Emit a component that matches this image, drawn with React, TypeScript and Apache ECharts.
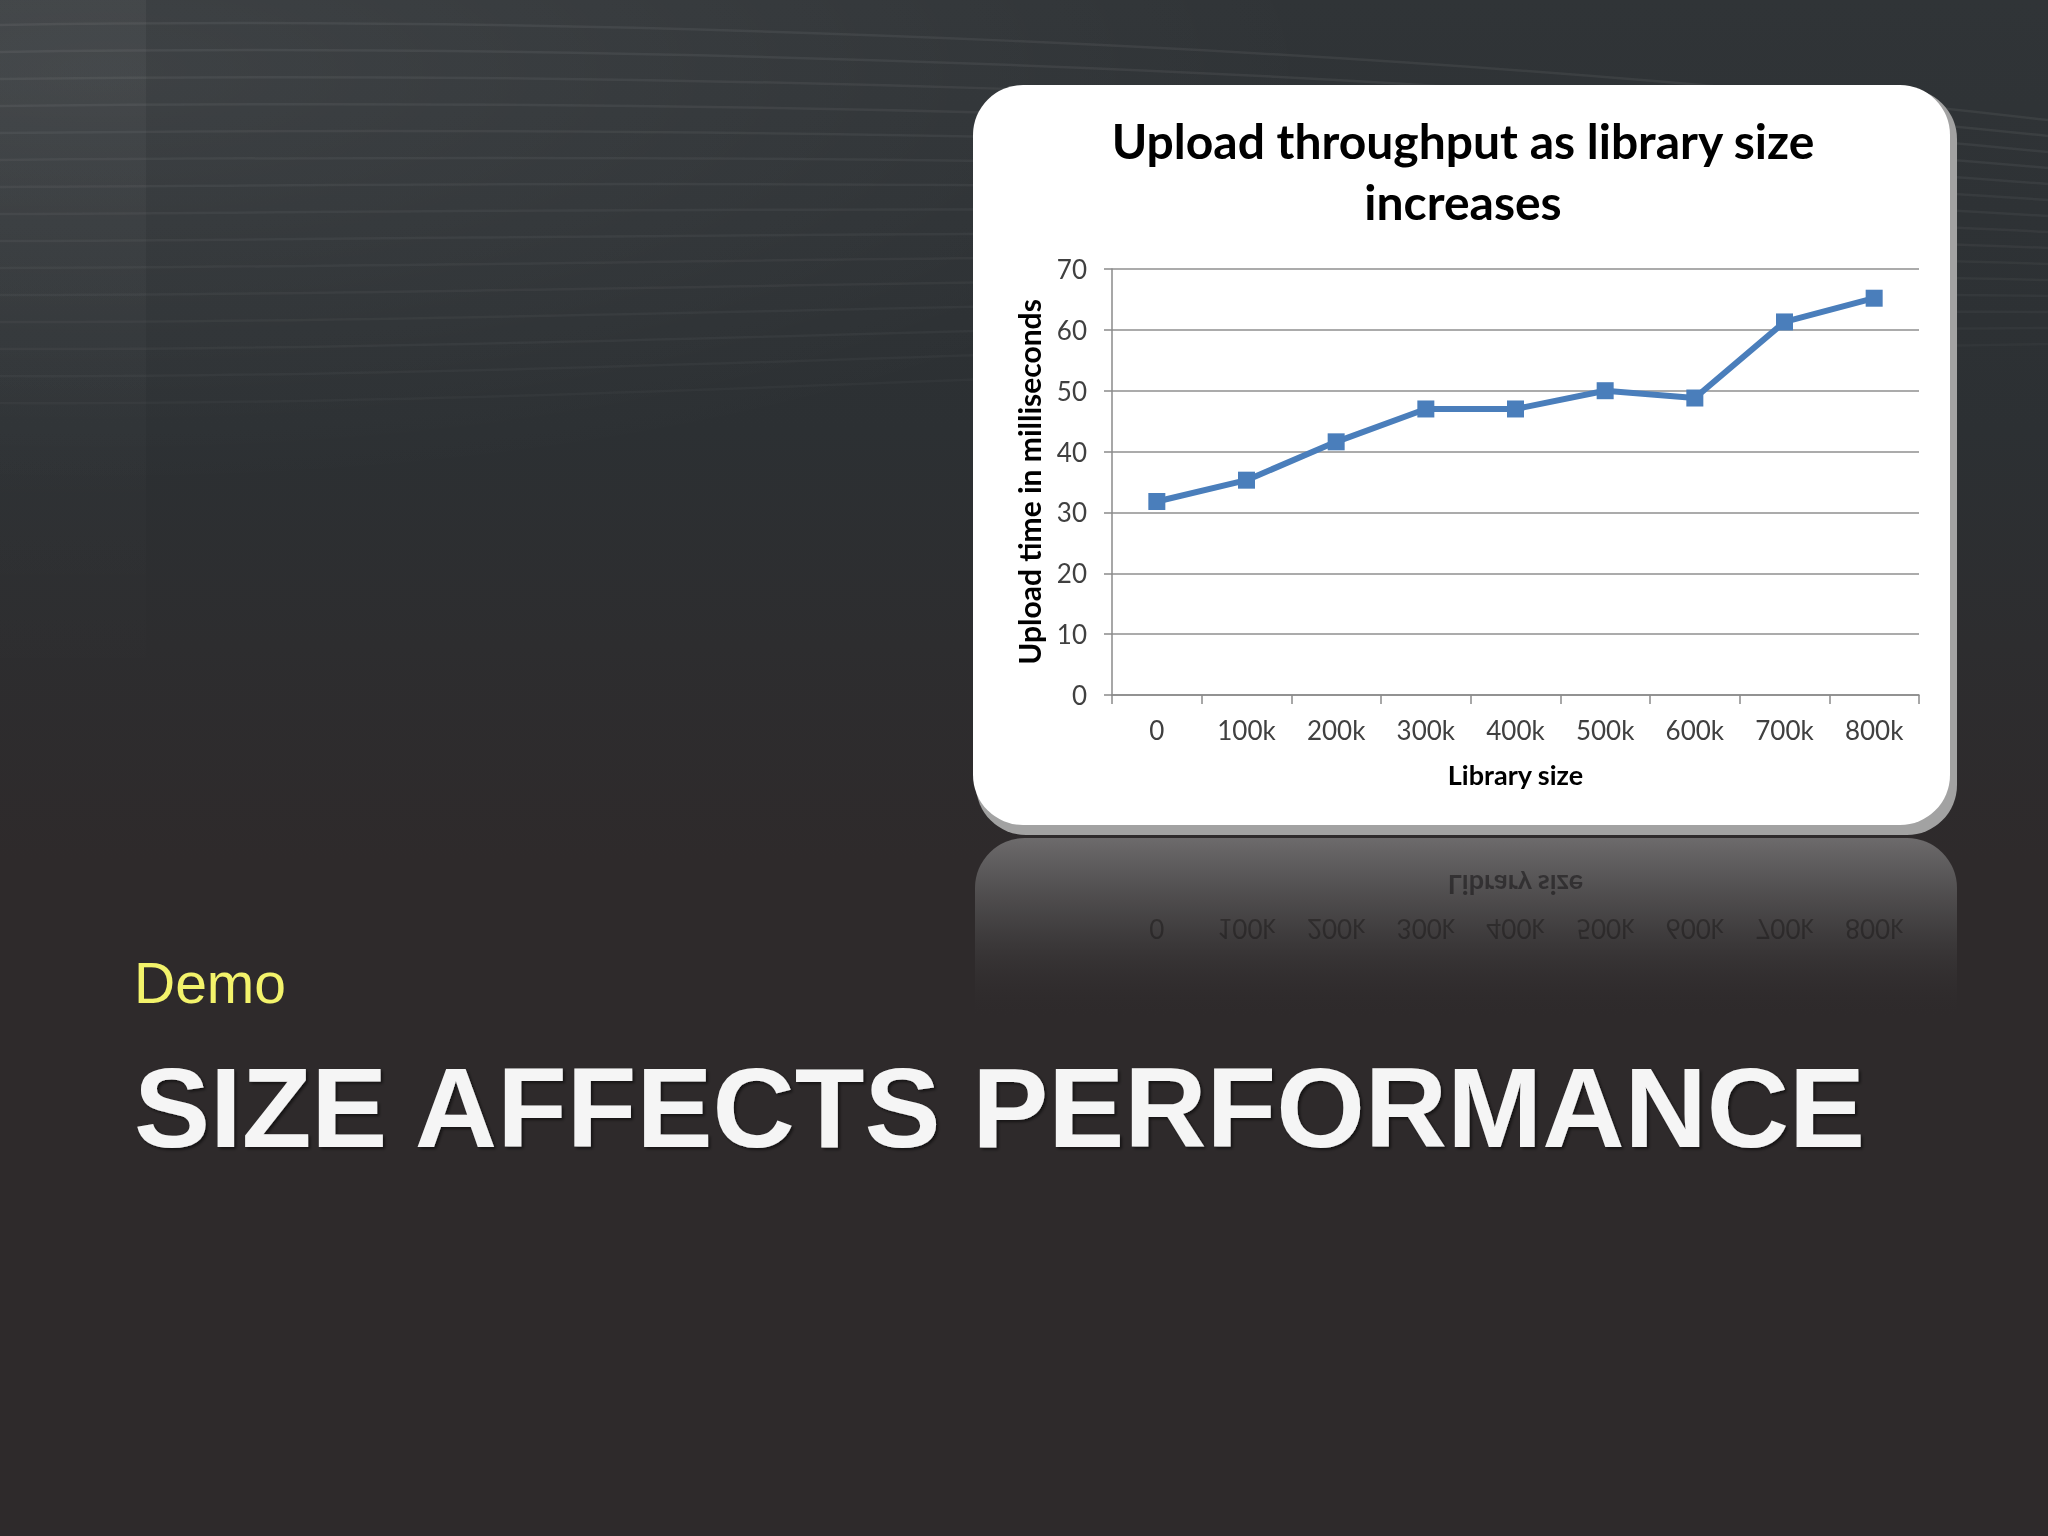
import React, { useEffect, useRef } from 'react';
import * as echarts from 'echarts';

// ---- data ----
const categories = ['0', '100k', '200k', '300k', '400k', '500k', '600k', '700k', '800k'];
const uploadMs = [31.8, 35.3, 41.6, 47.0, 47.0, 50.0, 48.8, 61.3, 65.2];
const yMin = 0;
const yMax = 70;
const yStep = 10;
const chartTitle = 'Upload throughput as library size\nincreases';
const xName = 'Library size';
const yName = 'Upload time in milliseconds';
const slideKicker = 'Demo';
const slideTitle = 'SIZE AFFECTS PERFORMANCE';

const W = 2048;
const H = 1536;
const CARD_FONT = 'Lato, "Open Sans", sans-serif';
const SLIDE_FONT = '"Liberation Sans", Arial, sans-serif';

export default function App() {
  const ref = useRef<HTMLDivElement>(null);

  useEffect(() => {
    const el = ref.current;
    if (!el) return;
    const chart = echarts.init(el, null, { renderer: 'svg' });

    const axisGray = '#8a8a8a';
    const option: any = {
      animation: false,
      backgroundColor: 'transparent',
      title: {
        text: chartTitle,
        left: 1463,
        top: 110,
        padding: 0,
        textAlign: 'center',
        textStyle: {
          fontFamily: CARD_FONT,
          fontWeight: 'bold',
          fontSize: 48,
          lineHeight: 61,
          color: '#000000',
        },
      },
      grid: { left: 1112, top: 269, width: 807, height: 426, containLabel: false },
      xAxis: {
        type: 'category',
        data: categories,
        boundaryGap: true,
        name: xName,
        nameLocation: 'middle',
        nameGap: 66,
        nameTextStyle: { fontFamily: CARD_FONT, fontWeight: 'bold', fontSize: 27, color: '#000000' },
        axisLine: { show: true, lineStyle: { color: axisGray, width: 1.5 } },
        axisTick: { show: true, length: 9, lineStyle: { color: axisGray, width: 1.5 } },
        axisLabel: { margin: 22, fontFamily: CARD_FONT, fontSize: 26, color: '#404040' },
        splitLine: { show: false },
      },
      yAxis: {
        type: 'value',
        min: yMin,
        max: yMax,
        interval: yStep,
        name: yName,
        nameLocation: 'middle',
        nameGap: 68,
        nameRotate: 90,
        nameTextStyle: { fontFamily: CARD_FONT, fontWeight: 'bold', fontSize: 30, color: '#000000' },
        axisLine: { show: true, lineStyle: { color: axisGray, width: 1.5 } },
        axisTick: { show: true, length: 8, lineStyle: { color: axisGray, width: 1.5 } },
        axisLabel: { margin: 25, fontFamily: CARD_FONT, fontSize: 26, color: '#404040' },
        splitLine: { show: true, lineStyle: { color: '#8f8f8f', width: 1.5 } },
      },
      series: [
        {
          type: 'line',
          data: uploadMs,
          symbol: 'rect',
          symbolSize: 17,
          lineStyle: { color: '#4a7ebb', width: 6 },
          itemStyle: { color: '#4a7ebb' },
          z: 5,
        },
      ],
    };
    chart.setOption(option);

    // decorative slide elements
    const gfx: any[] = [];
    gfx.push({
      type: 'rect',
      z: -20,
      shape: { x: 0, y: 0, width: W, height: H },
      style: {
        fill: new echarts.graphic.LinearGradient(0, 0, 0, 1, [
          { offset: 0, color: '#303437' },
          { offset: 0.28, color: '#2c3033' },
          { offset: 0.42, color: '#2d2d2f' },
          { offset: 0.56, color: '#2e2a2b' },
          { offset: 1, color: '#2e2a2b' },
        ]),
      },
      silent: true,
    });
    gfx.push({
      type: 'rect',
      z: -19,
      shape: { x: 0, y: 0, width: W, height: 700 },
      style: {
        fill: new echarts.graphic.RadialGradient(0.05, 0.1, 0.6, [
          { offset: 0, color: 'rgba(255,255,255,0.07)' },
          { offset: 1, color: 'rgba(255,255,255,0)' },
        ]),
      },
      silent: true,
    });
    gfx.push({
      type: 'rect',
      z: -19,
      shape: { x: 0, y: 0, width: 146, height: 700 },
      style: {
        fill: new echarts.graphic.LinearGradient(0, 0, 0, 1, [
          { offset: 0, color: 'rgba(255,255,255,0.04)' },
          { offset: 1, color: 'rgba(255,255,255,0)' },
        ]),
      },
      silent: true,
    });
    for (let i = 0; i < 15; i++) {
      const a = 0.06 - i * 0.0022;
      gfx.push({
        type: 'bezierCurve',
        z: -18,
        shape: {
          x1: 0,
          y1: 25 + i * 27,
          cpx1: 600,
          cpy1: 15 + i * 28,
          cpx2: 1400,
          cpy2: 45 + i * 22,
          x2: W,
          y2: 120 + i * 16,
        },
        style: { stroke: `rgba(255,255,255,${a.toFixed(4)})`, lineWidth: 2.5, fill: null },
        silent: true,
      });
    }

    // card shadow + card
    gfx.push({
      type: 'rect',
      z: -10,
      shape: { x: 976, y: 89, width: 981, height: 746, r: 50 },
      style: { fill: '#a2a2a2' },
      silent: true,
    });
    gfx.push({
      type: 'rect',
      z: -9,
      shape: { x: 973, y: 85, width: 977, height: 740, r: 50 },
      style: { fill: '#ffffff' },
      silent: true,
    });

    // reflection
    gfx.push({
      type: 'rect',
      z: -10,
      shape: { x: 975, y: 838, width: 982, height: 180, r: [50, 50, 0, 0] },
      style: {
        fill: new echarts.graphic.LinearGradient(0, 0, 0, 1, [
          { offset: 0, color: 'rgba(112,110,111,0.95)' },
          { offset: 0.5, color: 'rgba(70,68,69,0.8)' },
          { offset: 1, color: 'rgba(46,42,43,0)' },
        ]),
      },
      silent: true,
    });
    const xMid = chart.convertToPixel({ xAxisIndex: 0 }, categories[4]) as number;
    gfx.push({
      type: 'text',
      z: -8,
      x: xMid,
      y: 885,
      scaleY: -1,
      style: {
        text: xName,
        fontFamily: CARD_FONT,
        fontWeight: 'bold',
        fontSize: 27,
        fill: 'rgba(22,20,21,0.55)',
        align: 'center',
        verticalAlign: 'middle',
      },
      silent: true,
    });
    categories.forEach((c) => {
      const px = chart.convertToPixel({ xAxisIndex: 0 }, c) as number;
      gfx.push({
        type: 'text',
        z: -8,
        x: px,
        y: 929,
        scaleY: -1,
        style: {
          text: c,
          fontFamily: CARD_FONT,
          fontSize: 26,
          fill: 'rgba(22,20,21,0.45)',
          align: 'center',
          verticalAlign: 'middle',
        },
        silent: true,
      });
    });

    // slide texts
    gfx.push({
      type: 'text',
      z: 10,
      x: 134,
      y: 983,
      style: {
        text: slideKicker,
        fontFamily: SLIDE_FONT,
        fontSize: 57,
        fill: '#f3f36b',
        align: 'left',
        verticalAlign: 'middle',
      },
      silent: true,
    });
    gfx.push({
      type: 'text',
      z: 10,
      x: 134,
      y: 1107,
      style: {
        text: slideTitle,
        fontFamily: SLIDE_FONT,
        fontWeight: 'bold',
        fontSize: 114,
        fill: '#f5f5f5',
        align: 'left',
        verticalAlign: 'middle',
        textShadowColor: 'rgba(0,0,0,0.55)',
        textShadowBlur: 3,
        textShadowOffsetX: 2,
        textShadowOffsetY: 2,
      },
      silent: true,
    });

    chart.setOption({ graphic: { elements: gfx } });

    return () => {
      chart.dispose();
    };
  }, []);

  return (
    <div
      ref={ref}
      style={{ position: 'fixed', left: 0, top: 0, width: W, height: H, margin: 0 }}
    />
  );
}
